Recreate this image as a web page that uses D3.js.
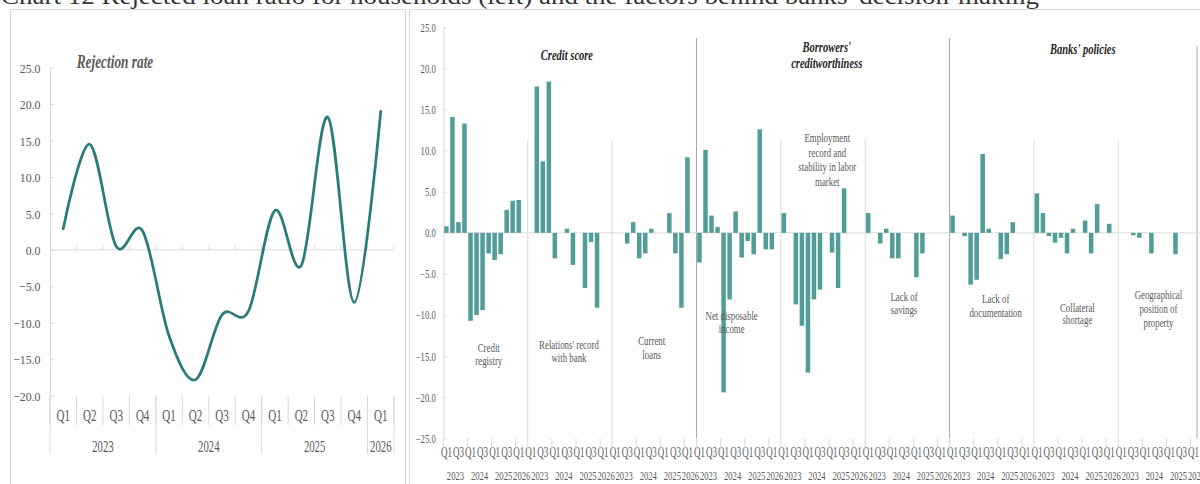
<!DOCTYPE html>
<html><head><meta charset="utf-8">
<script src="https://cdn.jsdelivr.net/npm/d3@7"></script>
<style>
html,body{margin:0;padding:0;background:#fff;overflow:hidden}
svg{display:block}
</style></head><body>
<svg id="c" width="1200" height="484"></svg>
<script>
// ---------------- DATA ----------------
const titleText = "Chart 12 Rejected loan ratio for households (left) and the factors behind banks' decision-making";
const quarters = ["Q1","Q2","Q3","Q4","Q1","Q2","Q3","Q4","Q1","Q2","Q3","Q4","Q1"];
const years = ["2023","2024","2025","2026"];
const yearSpans = [4,4,4,1];
const rejectionRate = [2.9,14.5,0.5,2.6,-11.8,-17.8,-8.9,-8.4,5.4,-2.1,18.2,-7.2,19.0];
const leftTicks = [25,20,15,10,5,0,-5,-10,-15,-20];
const rightTicks = [25,20,15,10,5,0,-5,-10,-15,-20,-25];

const mainCategories = ["Credit score","Borrowers'\ncreditworthiness","Banks' policies"];
const factorNames = [
  "Credit\nregistry",
  "Relations' record\nwith bank",
  "Current\nloans",
  "Net disposable\nincome",
  "Employment\nrecord and\nstability in labor\nmarket",
  "Lack of\nsavings",
  "Lack of\ndocumentation",
  "Collateral\nshortage",
  "Geographical\nposition of\nproperty"
];
const creditRegistry   = [0.8,14.1,1.3,13.3,-10.7,-10.0,-9.4,-2.5,-3.3,-2.6,2.8,3.9,4.0];
const relationsRecord  = [0,17.8,8.7,18.4,-3.1,0,0.5,-3.9,0,-6.7,-1.1,-9.1,0];
const currentLoans     = [0,0,-1.3,1.3,-3.1,-2.5,0.5,0,0,2.4,-2.5,-9.1,9.2];
const netIncome        = [-3.6,10.1,2.1,0.7,-19.4,-8.1,2.6,-3.0,-1.0,-2.6,12.6,-2.0,-2.0];
const employment       = [2.4,0,-8.7,-11.3,-17.0,-8.1,-6.9,0,-2.4,-6.7,5.4,0,0];
const lackSavings      = [2.4,0,-1.3,0.5,-3.1,-3.1,0,0,-5.4,-2.5,0,0,0];
const lackDocumentation= [2.1,0,-0.4,-6.3,-5.7,9.6,0.5,0,-3.2,-2.6,1.3,0,0];
const collateral       = [4.8,2.4,-0.4,-1.2,-0.6,-2.5,0.5,0,1.5,-2.5,3.5,0,1.1];
const geographical     = [0,0,-0.3,-0.6,0,-2.5,0,0,0,-2.6,0,0,0];
const factorValues = [creditRegistry,relationsRecord,currentLoans,netIncome,employment,
                      lackSavings,lackDocumentation,collateral,geographical];

// ---------------- LAYOUT / STYLE ----------------
const FONT = "'Liberation Serif','Times New Roman',serif";
const GRAY = "#595959", AXIS = "#d9d9d9", MAJOR = "#a6a6a6";
const BAR = "#519e98", LINE = "#2b7b7a";
const factorLabelLayout = [
  {dx:3.2,y:351.7,lh:13.6},{dx:-1,y:349.3,lh:12.4},{dx:-2.6,y:345.3,lh:13.4},
  {dx:-7,y:320,lh:13.3},{dx:4.3,y:141.7,lh:14.8},{dx:-3.3,y:301,lh:13},
  {dx:4,y:303.3,lh:14},{dx:1.3,y:311.7,lh:12.5},{dx:-2,y:299,lh:14.2}
];
const headerLayout = [{dx:-3,y:60},{dx:3.7,y:51.7},{dx:6.7,y:54}];

const svg = d3.select("#c");

function stext(parent, x, y, str, o) {
  const t = parent.append("text")
    .attr("transform", `translate(${x},${y}) scale(${o.sx},1)`)
    .attr("text-anchor", o.anchor || "middle")
    .attr("font-family", FONT).attr("font-size", o.size)
    .attr("fill", o.fill || GRAY).text(str);
  if (o.weight) t.attr("font-weight", o.weight);
  if (o.style) t.attr("font-style", o.style);
  return t;
}
function vline(x, y1, y2, c) {
  svg.append("line").attr("x1", x).attr("x2", x).attr("y1", y1).attr("y2", y2)
    .attr("stroke", c).attr("stroke-width", 1);
}
function hline(x1, x2, y, c) {
  svg.append("line").attr("x1", x1).attr("x2", x2).attr("y1", y).attr("y2", y)
    .attr("stroke", c).attr("stroke-width", 1);
}

// title (cut at top, as in the reference)
svg.append("text").attr("x", 1).attr("y", 4)
  .attr("font-family", FONT).attr("font-size", 24).attr("fill", "#333")
  .attr("textLength", 1038).attr("lengthAdjust", "spacingAndGlyphs")
  .text(titleText);

// panel frames
svg.append("rect").attr("x", 10.5).attr("y", 9.5).attr("width", 395).attr("height", 520)
  .attr("fill", "none").attr("stroke", AXIS);
vline(409.5, 9.5, 484, AXIS);
hline(409.5, 1200, 9.5, AXIS);

// ---------------- LEFT: Rejection rate ----------------
const yL = d3.scaleLinear().domain([-20, 25]).range([395.7, 67.7]);
const xL = d3.scaleBand().domain(d3.range(quarters.length)).range([50, 394]).padding(0);
const bwL = xL.bandwidth();

vline(50.5, yL(25), yL(-20), AXIS);
const yAxL = svg.append("g").attr("transform", "translate(50.5,0)")
  .call(d3.axisLeft(yL).tickValues(leftTicks).tickSize(-4).tickFormat(d3.format(".1f")));
yAxL.select(".domain").remove();
yAxL.selectAll("line").attr("stroke", AXIS);
yAxL.selectAll("text").attr("x", 0).attr("dy", "0.34em")
  .attr("transform", "translate(-10,0) scale(0.89,1)")
  .attr("font-family", FONT).attr("font-size", 13.3).attr("fill", GRAY);

// zero line with category ticks
hline(50, 394, yL(0), AXIS);
d3.range(1, quarters.length + 1).forEach(k => vline(50 + k * bwL, yL(0) - 5, yL(0), AXIS));

// bottom category labels
const xAxL = svg.append("g").attr("transform", `translate(0,${yL(-20)})`)
  .call(d3.axisBottom(xL).tickSize(0).tickFormat(i => quarters[i]));
xAxL.select(".domain").remove();
xAxL.selectAll("text").attr("y", 0).attr("dy", 0)
  .attr("transform", "translate(0,25.3) scale(0.69,1)")
  .attr("font-family", FONT).attr("font-size", 16).attr("fill", GRAY);
d3.range(0, quarters.length + 1).forEach(k => vline(50 + k * bwL, yL(-20), 425, AXIS));
let acc = 0;
years.forEach((yr, j) => {
  const x0 = xL(acc), span = yearSpans[j];
  stext(svg, x0 + span * bwL / 2, 451.5, yr, {size: 16, sx: 0.67});
  vline(x0, yL(-20), 454, AXIS);
  acc += span;
});
vline(394, yL(-20), 454, AXIS);

// line
const lineGen = d3.line()
  .x((d, i) => xL(i) + bwL / 2).y(d => yL(d))
  .curve(d3.curveCardinal.tension(0));
svg.append("path").datum(rejectionRate).attr("d", lineGen)
  .attr("fill", "none").attr("stroke", LINE).attr("stroke-width", 2.75)
  .attr("stroke-linecap", "round");

stext(svg, 115, 68, "Rejection rate", {size: 18, sx: 0.74, weight: "bold", style: "italic"});

// ---------------- RIGHT: factors ----------------
const SLOTS = 14;
const slotIds = [];
factorNames.forEach((f, g) => d3.range(SLOTS).forEach(i => slotIds.push(g * SLOTS + i)));
const xR = d3.scaleBand().domain(slotIds).range([443.4, 1202.6])
  .paddingInner(0.25).paddingOuter(0.125);
const step = xR.step();
const gStart = g => 443.4 + g * SLOTS * step;
const yR = d3.scaleLinear().domain([-25, 25]).range([438.4, 27.3]);

// separators
factorNames.forEach((f, g) => {
  if (g === 0) return;
  const major = (g % 3 === 0);
  vline(gStart(g), major ? 38 : 140, yR(-25), major ? MAJOR : AXIS);
});
vline(1197, 46, yR(-25), MAJOR);

// y axis
vline(443.9, yR(25), yR(-25), AXIS);
const yAxR = svg.append("g").attr("transform", "translate(443.9,0)")
  .call(d3.axisLeft(yR).tickValues(rightTicks).tickSize(-3).tickFormat(d3.format(".1f")));
yAxR.select(".domain").remove();
yAxR.selectAll("line").attr("stroke", AXIS);
yAxR.selectAll("text").attr("x", 0).attr("dy", "0.34em")
  .attr("transform", "translate(-8.2,0) scale(0.75,1)")
  .attr("font-family", FONT).attr("font-size", 11.5).attr("fill", GRAY);

// zero line
hline(443.4, 1202.6, yR(0), AXIS);

// bars
const barData = [];
factorValues.forEach((arr, g) => arr.forEach((v, i) => barData.push({slot: g * SLOTS + i, v})));
svg.append("g").selectAll("rect").data(barData.filter(d => d.v !== 0)).join("rect")
  .attr("x", d => xR(d.slot)).attr("width", xR.bandwidth())
  .attr("y", d => yR(Math.max(0, d.v)))
  .attr("height", d => Math.abs(yR(d.v) - yR(0)))
  .attr("fill", BAR);

// bottom axis labels
const qTicks = slotIds.filter(s => (s % SLOTS) % 2 === 0 && (s % SLOTS) <= 12);
const xAxR = svg.append("g").attr("transform", `translate(0,${yR(-25)})`)
  .call(d3.axisBottom(xR).tickValues(qTicks).tickSize(0).tickFormat(s => quarters[s % SLOTS]));
xAxR.select(".domain").remove();
xAxR.selectAll("text").attr("y", 0).attr("dy", 0)
  .attr("transform", "translate(0,18.3) scale(0.62,1)")
  .attr("font-family", FONT).attr("font-size", 14.5).attr("fill", GRAY);
factorNames.forEach((f, g) => {
  [0, 4, 8, 12].forEach(k => vline(gStart(g) + k * step, yR(-25), 450, AXIS));
  let a = 0;
  years.forEach((yr, j) => {
    const span = j === 3 ? 2 : yearSpans[j];
    stext(svg, gStart(g) + (a + span / 2) * step, 480, yr, {size: 12.5, sx: 0.69});
    a += span;
  });
});
vline(gStart(9), yR(-25), 450, AXIS);

// factor labels
factorNames.forEach((f, g) => {
  const L = factorLabelLayout[g];
  const cx = gStart(g) + SLOTS * step / 2 + L.dx;
  f.split("\n").forEach((ln, k) => stext(svg, cx, L.y + k * L.lh, ln, {size: 13, sx: 0.68}));
});

// main category headers
mainCategories.forEach((c, m) => {
  const H = headerLayout[m];
  const cx = gStart(m * 3) + 3 * SLOTS * step / 2 + H.dx;
  c.split("\n").forEach((ln, k) => stext(svg, cx, H.y + k * 16, ln,
    {size: 15, sx: 0.7, weight: "bold", style: "italic", fill: "#262626"}));
});
</script>
</body></html>
